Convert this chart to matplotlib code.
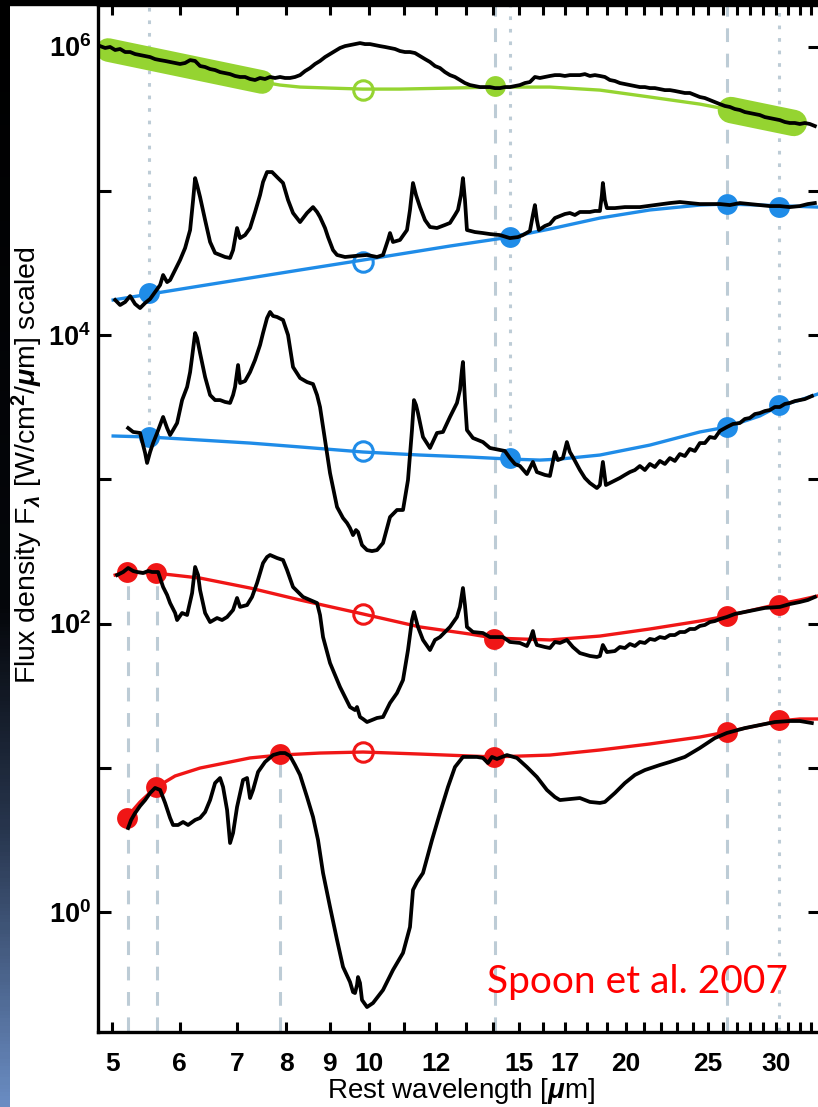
import numpy as np
import matplotlib
matplotlib.use('Agg')
import matplotlib.pyplot as plt
from matplotlib.ticker import FixedLocator, FixedFormatter, NullLocator, NullFormatter
from matplotlib.patches import Rectangle
from matplotlib.colors import LinearSegmentedColormap

plt.rcParams['font.family'] = ['Liberation Sans', 'DejaVu Sans']
plt.rcParams['font.weight'] = 'bold'
plt.rcParams['mathtext.fontset'] = 'custom'
plt.rcParams['mathtext.rm'] = 'Liberation Sans:bold'
plt.rcParams['mathtext.it'] = 'Liberation Sans:italic'
plt.rcParams['mathtext.bf'] = 'Liberation Sans:bold'

# --- spectra: rest wavelength [um] and log10 of scaled flux density ---
wave1 = [4.841, 4.907, 4.973, 5.041, 5.109, 5.179, 5.249, 5.320, 5.392, 5.466, 5.540, 5.615, 5.692, 5.769,
         5.847, 5.927, 6.007, 6.089, 6.172, 6.256, 6.340, 6.427, 6.514, 6.602, 6.692, 6.783, 6.875, 6.968,
         7.063, 7.159, 7.256, 7.355, 7.455, 7.556, 7.659, 7.763, 7.868, 7.975, 8.083, 8.193, 8.305, 8.418,
         8.532, 8.648, 8.765, 8.884, 9.005, 9.127, 9.251, 9.377, 9.504, 9.633, 9.764, 9.897, 10.031, 10.168,
         10.306, 10.446, 10.588, 10.732, 10.877, 11.025, 11.175, 11.327, 11.481, 11.637, 11.795, 11.955,
         12.117, 12.282, 12.449, 12.618, 12.789, 12.963, 13.139, 13.317, 13.498, 13.681, 13.867, 14.056,
         14.247, 14.440, 14.636, 14.835, 15.037, 15.241, 15.448, 15.658, 15.870, 16.086, 16.305, 16.526,
         16.751, 16.978, 17.209, 17.443, 17.680, 17.920, 18.164, 18.411, 18.661, 18.914, 19.171, 19.432,
         19.696, 19.963, 20.235, 20.510, 20.788, 21.071, 21.357, 21.647, 21.941, 22.239, 22.542, 22.848,
         23.159, 23.473, 23.792, 24.116, 24.443, 24.775, 25.112, 25.453, 25.799, 26.150, 26.505, 26.865,
         27.229, 27.599, 27.974, 28.354, 28.740, 29.131, 29.527, 29.928, 30.335, 30.747, 31.165, 31.588,
         32.017, 32.452, 32.893, 33.341]
logf1 = [6.003, 5.990, 5.997, 5.976, 5.983, 5.962, 5.962, 5.948, 5.941, 5.934, 5.927, 5.913, 5.906, 5.900,
         5.893, 5.886, 5.879, 5.886, 5.906, 5.900, 5.865, 5.858, 5.844, 5.837, 5.823, 5.816, 5.809, 5.796,
         5.789, 5.789, 5.775, 5.768, 5.782, 5.775, 5.789, 5.782, 5.789, 5.782, 5.782, 5.789, 5.802, 5.830,
         5.851, 5.879, 5.900, 5.927, 5.948, 5.969, 5.990, 6.003, 6.010, 6.017, 6.024, 6.017, 6.017, 6.010,
         6.003, 5.997, 5.990, 5.983, 5.969, 5.962, 5.962, 5.955, 5.934, 5.913, 5.893, 5.865,
         5.851, 5.823, 5.802, 5.789, 5.768, 5.747, 5.733, 5.726, 5.719, 5.719, 5.719, 5.712,
         5.712, 5.719, 5.719, 5.726, 5.733, 5.747, 5.754, 5.789, 5.782, 5.789, 5.796, 5.802,
         5.802, 5.796, 5.802, 5.802, 5.802, 5.809, 5.796, 5.802, 5.796, 5.789, 5.768, 5.761,
         5.747, 5.740, 5.733, 5.726, 5.719, 5.719, 5.712, 5.712, 5.705, 5.698, 5.698, 5.692,
         5.685, 5.678, 5.678, 5.664, 5.650, 5.643, 5.629, 5.615, 5.601, 5.588, 5.581, 5.567,
         5.560, 5.546, 5.539, 5.532, 5.525, 5.511, 5.504, 5.497, 5.490, 5.477, 5.470, 5.470,
         5.463, 5.470, 5.463, 5.449]

wave2 = [5.041, 5.109, 5.179, 5.249, 5.320, 5.392, 5.466, 5.540, 5.615, 5.692, 5.738, 5.800, 5.847, 5.927,
         6.007, 6.089, 6.172, 6.222, 6.256, 6.289, 6.340, 6.427, 6.514, 6.602, 6.692, 6.783, 6.875, 6.931,
         7.006, 7.063, 7.159, 7.256, 7.355, 7.455, 7.515, 7.597, 7.700, 7.826, 7.932, 8.040, 8.149, 8.305,
         8.463, 8.601, 8.695, 8.765, 8.884, 8.957, 9.078, 9.177, 9.377, 9.633, 9.951, 10.223, 10.390,
         10.531, 10.588, 10.674, 10.877, 11.085, 11.175, 11.266, 11.358, 11.481, 11.637, 11.795, 12.020,
         12.282, 12.449, 12.618, 12.720, 12.824, 12.893, 12.963, 13.033, 13.317, 13.608, 13.867, 14.247,
         14.636, 14.955, 15.159, 15.448, 15.573, 15.658, 15.742, 15.827, 16.086, 16.305, 16.526, 16.751,
         16.978, 17.209, 17.443, 17.680, 18.164, 18.411, 18.661, 18.762, 18.812, 18.914, 19.017, 19.432,
         19.963, 20.788, 21.647, 22.542, 23.159, 23.792, 24.443, 25.112, 25.799, 26.505, 27.229, 27.974,
         28.740, 29.527, 30.335, 31.165, 32.017, 32.716, 33.341]
logf2 = [4.243, 4.208, 4.229, 4.270, 4.215, 4.187, 4.222, 4.250, 4.298, 4.347, 4.416, 4.367, 4.381, 4.451,
         4.520, 4.603, 4.728, 4.936, 5.088, 5.040, 4.957, 4.797, 4.645, 4.569, 4.555, 4.541, 4.534, 4.589,
         4.742, 4.672, 4.693, 4.742, 4.853, 4.971, 5.061, 5.130, 5.130, 5.088, 5.054, 4.936, 4.846, 4.783,
         4.846, 4.887, 4.853, 4.818, 4.742, 4.679, 4.589, 4.555, 4.541, 4.548, 4.555, 4.541, 4.555,
         4.659, 4.707, 4.645, 4.659, 4.728, 4.867, 5.054, 4.971, 4.887, 4.797, 4.749, 4.742,
         4.763, 4.777, 4.832, 4.867, 4.971, 5.088, 4.936, 4.728, 4.714, 4.707, 4.700, 4.693,
         4.672, 4.679, 4.693, 4.721, 4.832, 4.901, 4.797, 4.728, 4.756, 4.770, 4.811, 4.825,
         4.839, 4.846, 4.832, 4.853, 4.853, 4.860, 4.860, 4.971, 5.054, 4.936, 4.880, 4.880,
         4.887, 4.887, 4.901, 4.915, 4.922, 4.915, 4.908, 4.908, 4.908, 4.901, 4.915, 4.908,
         4.901, 4.894, 4.894, 4.887, 4.894, 4.908, 4.915]

wave3 = [5.221, 5.292, 5.392, 5.466, 5.495, 5.540, 5.585, 5.646, 5.692, 5.738, 5.800, 5.847, 5.894, 5.959,
         6.040, 6.122, 6.172, 6.205, 6.256, 6.289, 6.340, 6.427, 6.514, 6.602, 6.692, 6.783, 6.875, 6.931,
         6.968, 7.025, 7.063, 7.159, 7.256, 7.355, 7.455, 7.515, 7.597, 7.659, 7.721, 7.805, 7.932, 8.040,
         8.149, 8.305, 8.463, 8.601, 8.695, 8.765, 8.884, 9.005, 9.177, 9.327, 9.428, 9.504, 9.582, 9.659,
         9.712, 9.817, 9.951, 10.085, 10.223, 10.390, 10.588, 10.790, 10.966, 11.115, 11.175, 11.235,
         11.296, 11.358, 11.419, 11.574, 11.795, 12.020, 12.216, 12.449, 12.686, 12.789, 12.858, 12.893,
         12.963, 13.033, 13.246, 13.608, 13.867, 14.247, 14.440, 14.636, 14.835, 15.037, 15.323, 15.573,
         15.742, 16.086, 16.305, 16.526, 16.660, 16.887, 17.070, 17.209, 17.349, 17.680, 17.920, 18.164,
         18.510, 18.661, 18.812, 18.965, 19.171, 19.696, 19.963, 20.235, 20.510, 20.788, 21.071, 21.357,
         21.647, 21.941, 22.239, 22.542, 22.848, 23.159, 23.473, 23.792, 24.116, 24.443, 24.775, 25.112,
         25.453, 25.799, 26.290, 26.720, 27.229, 27.599, 27.974, 28.354, 28.740, 29.131, 29.527, 29.928,
         30.335, 30.747, 31.165, 31.588, 32.017, 32.452, 33.072]
logf3 = [3.355, 3.328, 3.321, 3.182, 3.113, 3.189, 3.251, 3.321, 3.376, 3.432, 3.355, 3.307, 3.341, 3.390,
         3.549, 3.640, 3.743, 3.847, 4.014, 3.979, 3.875, 3.709, 3.584, 3.549, 3.549, 3.536, 3.529, 3.584,
         3.640, 3.792, 3.667, 3.681, 3.743, 3.827, 3.931, 4.014, 4.118, 4.160, 4.132, 4.125, 4.104, 4.000,
         3.778, 3.702, 3.674, 3.660, 3.584, 3.501, 3.272, 3.043, 2.808, 2.731, 2.697, 2.662, 2.613, 2.648,
         2.634, 2.544, 2.509, 2.502, 2.509, 2.558, 2.738, 2.787, 2.787, 2.995, 3.168, 3.341,
         3.549, 3.515, 3.459, 3.293, 3.217, 3.321, 3.328, 3.432, 3.529, 3.619, 3.757, 3.813,
         3.549, 3.341, 3.286, 3.258, 3.217, 3.203, 3.196, 3.147, 3.106, 3.092, 3.036, 3.120,
         3.050, 3.030, 3.023, 3.189, 3.133, 3.147, 3.258, 3.189, 3.154, 3.064, 3.009, 2.974,
         2.939, 2.960, 3.120, 2.960, 2.974, 3.009, 3.030, 3.050, 3.064, 3.092, 3.064, 3.106,
         3.085, 3.127, 3.106, 3.147, 3.127, 3.175, 3.161, 3.210, 3.196, 3.251, 3.251, 3.293,
         3.286, 3.335, 3.362, 3.383, 3.390, 3.418, 3.425, 3.452, 3.459, 3.473, 3.480, 3.501,
         3.501, 3.522, 3.529, 3.542, 3.549, 3.556, 3.577]

wave4 = [5.068, 5.151, 5.221, 5.292, 5.349, 5.436, 5.510, 5.570, 5.661, 5.738, 5.800, 5.847, 5.927, 5.959,
         6.040, 6.122, 6.205, 6.256, 6.306, 6.340, 6.427, 6.514, 6.638, 6.728, 6.820, 6.931, 7.006, 7.063,
         7.198, 7.295, 7.395, 7.515, 7.597, 7.659, 7.805, 7.932, 8.018, 8.149, 8.372, 8.532, 8.695, 8.765,
         8.837, 9.005, 9.251, 9.504, 9.633, 9.686, 9.764, 9.844, 9.951, 10.223, 10.390, 10.588, 10.790,
         10.966, 11.115, 11.235, 11.296, 11.419, 11.574, 11.795, 11.955, 12.117, 12.449, 12.686, 12.789,
         12.893, 12.963, 13.033, 13.246, 13.608, 13.867, 14.132, 14.362, 14.636, 15.037, 15.323, 15.448,
         15.573, 15.658, 15.742, 16.086, 16.305, 16.526, 16.751, 17.070, 17.349, 17.680, 18.164, 18.510,
         18.661, 18.812, 19.017, 19.432, 19.696, 19.963, 20.235, 20.510, 20.788, 21.071, 21.357, 21.647,
         21.941, 22.239, 22.542, 22.848, 23.159, 23.473, 23.792, 24.116, 24.443, 24.775, 25.112, 25.453,
         25.799, 26.290, 26.865, 27.599, 28.354, 29.131, 30.335, 31.165, 32.017, 32.716, 33.341]
logf4 = [2.336, 2.357, 2.385, 2.364, 2.357, 2.350, 2.364, 2.357, 2.357, 2.253, 2.198, 2.142, 2.073, 2.024,
         2.073, 2.059, 2.211, 2.392, 2.336, 2.232, 2.073, 2.010, 2.038, 2.024, 2.045, 2.094, 2.177, 2.115,
         2.128, 2.184, 2.281, 2.419, 2.461, 2.475, 2.454, 2.440, 2.371, 2.253, 2.184, 2.163, 2.142, 2.059,
         1.906, 1.726, 1.560, 1.421, 1.400, 1.421, 1.352, 1.338, 1.317, 1.345, 1.352, 1.449, 1.518,
         1.608, 1.816, 2.024, 2.080, 1.976, 1.886, 1.816, 1.886, 1.906, 1.976, 2.045, 2.115,
         2.246, 2.128, 1.976, 1.941, 1.934, 1.906, 1.906, 1.906, 1.872, 1.865, 1.844, 1.886,
         1.948, 1.886, 1.851, 1.837, 1.830, 1.872, 1.865, 1.886, 1.837, 1.795, 1.775, 1.768,
         1.775, 1.851, 1.802, 1.809, 1.837, 1.830, 1.858, 1.844, 1.872, 1.865, 1.893, 1.886,
         1.906, 1.899, 1.920, 1.920, 1.941, 1.941, 1.962, 1.962, 1.983, 1.990, 2.010, 2.017,
         2.031, 2.045, 2.066, 2.080, 2.094, 2.108, 2.115, 2.135, 2.149, 2.163, 2.184]

wave5 = [5.221, 5.263, 5.320, 5.392, 5.466, 5.540, 5.615, 5.692, 5.769, 5.847, 5.894, 5.975, 6.056, 6.138,
         6.256, 6.340, 6.427, 6.514, 6.602, 6.692, 6.746, 6.820, 6.875, 6.931, 7.006, 7.120, 7.198, 7.256,
         7.315, 7.415, 7.556, 7.721, 7.868, 7.975, 8.083, 8.193, 8.305, 8.463, 8.601, 8.718, 8.837, 9.005,
         9.177, 9.327, 9.504, 9.582, 9.633, 9.686, 9.712, 9.764, 9.817, 9.951, 10.113, 10.390, 10.674,
         10.966, 11.175, 11.266, 11.388, 11.574, 11.859, 12.117, 12.382, 12.618, 12.893, 13.389, 13.608,
         13.793, 13.942, 14.132, 14.518, 14.915, 15.323, 15.742, 16.173, 16.526, 16.751, 17.209, 17.680,
         18.164, 18.661, 18.914, 19.432, 19.963, 20.510, 21.071, 21.941, 22.542, 23.473, 24.443, 25.453,
         26.290, 27.599, 28.740, 29.928, 31.165, 32.017, 33.072]
logf5 = [0.582, 0.638, 0.686, 0.735, 0.776, 0.825, 0.860, 0.846, 0.756, 0.652, 0.603, 0.603, 0.624, 0.603,
         0.638, 0.652, 0.693, 0.776, 0.894, 0.929, 0.867, 0.707, 0.478, 0.548, 0.728, 0.915, 0.929, 0.790,
         0.846, 0.971, 1.040, 1.088, 1.102, 1.102, 1.082, 1.019, 0.950, 0.797, 0.659, 0.499, 0.270, 0.035,
         -0.194, -0.381, -0.485, -0.555, -0.562, -0.506, -0.451, -0.492, -0.610, -0.659, -0.631, -0.541, -0.402,
         -0.284, -0.104, 0.153, 0.208, 0.270, 0.499, 0.686, 0.867, 1.005, 1.075, 1.075, 1.068,
         1.033, 1.075, 1.061, 1.088, 1.068, 1.005, 0.936, 0.846, 0.797, 0.776, 0.783, 0.790,
         0.763, 0.756, 0.763, 0.825, 0.894, 0.950, 0.984, 1.019, 1.040, 1.075, 1.137, 1.206,
         1.241, 1.275, 1.296, 1.317, 1.324, 1.324, 1.310]

# --- continuum fits ---
band1_left_w, band1_left_f = [4.946, 7.495], [5.976, 5.754]
band1_right_w, band1_right_f = [26.577, 31.504], [5.560, 5.470]
cont1_w = [7.495, 7.868, 8.305, 9.005, 9.844, 10.877, 12.449, 14.056, 16.305, 18.661, 21.357, 24.443, 26.577]
cont1_f = [5.754, 5.733, 5.719, 5.712, 5.705, 5.705, 5.712, 5.719, 5.719, 5.698, 5.650, 5.601, 5.560]

cont2_w = [5.014, 6.340, 8.305, 9.844, 12.449, 14.636, 16.305, 18.661, 21.357, 24.443, 26.290, 28.740, 31.165, 33.612]
cont2_f = [4.243, 4.340, 4.451, 4.520, 4.617, 4.679, 4.735, 4.811, 4.867, 4.901, 4.908, 4.901, 4.894, 4.887]

cont3_w = [5.014, 5.525, 6.340, 7.256, 8.305, 9.844, 11.481, 13.139, 14.636, 15.870, 16.751, 18.661, 21.357,
           24.443, 26.290, 28.740, 30.253, 32.017, 33.612]
cont3_f = [3.300, 3.293, 3.272, 3.251, 3.224, 3.189, 3.168, 3.154, 3.140, 3.133, 3.140, 3.168, 3.237,
           3.328, 3.362, 3.439, 3.508, 3.549, 3.591]

cont4_w = [5.041, 5.193, 5.615, 6.340, 7.256, 8.305, 9.844, 11.481, 13.139, 14.018, 16.305, 18.661, 21.357,
           24.443, 26.290, 30.253, 32.017, 33.612]
cont4_f = [2.336, 2.357, 2.350, 2.315, 2.246, 2.163, 2.066, 1.976, 1.927, 1.899, 1.886, 1.913, 1.962,
           2.017, 2.052, 2.135, 2.163, 2.191]

cont5_w = [5.193, 5.392, 5.615, 5.927, 6.340, 6.875, 7.256, 7.868, 8.765, 9.844, 11.481, 14.018, 16.305,
           18.661, 21.357, 24.443, 26.290, 28.740, 30.253, 32.017, 33.612]
cont5_f = [0.652, 0.763, 0.860, 0.943, 0.998, 1.040, 1.068, 1.088, 1.102, 1.109, 1.095, 1.075, 1.088,
           1.123, 1.165, 1.213, 1.248, 1.296, 1.324, 1.338, 1.338]

# --- pivot points (filled) and interpolated points (open) ---
pts1_w, pts1_f = [14.056], [5.726]
open1_w, open1_f = [9.844], [5.698]
pts2_w, pts2_f = [5.525, 14.636, 26.290, 30.253], [4.291, 4.679, 4.908, 4.887]
open2_w, open2_f = [9.844], [4.506]
pts3_w, pts3_f = [5.525, 14.636, 26.290, 30.253], [3.293, 3.147, 3.362, 3.515]
open3_w, open3_f = [9.844], [3.196]
pts4_w, pts4_f = [5.21, 5.63, 14.018, 26.290, 30.253], [2.357, 2.350, 1.893, 2.052, 2.128]
open4_w, open4_f = [9.844], [2.066]
pts5_w, pts5_f = [5.21, 5.63, 7.868, 14.018, 26.290, 30.253], [0.652, 0.867, 1.095, 1.075, 1.248, 1.331]
open5_w, open5_f = [9.844], [1.109]

# vertical guide lines: wavelength, lower and upper log10 flux, style
guide_w = [5.525, 5.221, 5.646, 7.868, 14.056, 14.636, 26.290, 30.253]
guide_lo = [3.29, -1.0, -1.0, -1.0, -1.0, 3.15, -1.0, -1.0]
guide_hi = [6.5, 2.36, 2.36, 1.10, 6.5, 6.5, 6.5, 6.5]
guide_style = ['dot', 'dash', 'dash', 'dash', 'dash', 'dot', 'dash', 'dot']

xticks_major = [5, 6, 7, 8, 9, 10, 12, 15, 17, 20, 25, 30]
xticks_minor = [11, 13, 14, 16, 18, 19, 21, 22, 23, 24, 26, 27, 28, 29, 31, 32, 33]
yticks = [0, 1, 2, 3, 4, 5, 6]
ylabels = [r'$\mathregular{10^{0}}$', '', r'$\mathregular{10^{2}}$', '',
           r'$\mathregular{10^{4}}$', '', r'$\mathregular{10^{6}}$']

GREEN = '#95d431'
BLUE = '#1f8ce8'
RED = '#f01616'
GUIDE = '#bdccd6'

W, H = 818, 1107
fig = plt.figure(figsize=(W / 100, H / 100), dpi=100)
fig.patch.set_facecolor('white')

# dark slide edge on the left and top
edge = fig.add_axes([0, 0, 10 / W, 1])
edge_cmap = LinearSegmentedColormap.from_list(
    'edge', [(0.0, '#000000'), (0.55, '#05070b'), (0.75, '#27354d'), (1.0, '#6a8cc2')])
edge.imshow(np.linspace(0, 1, 300)[:, None], aspect='auto', cmap=edge_cmap)
edge.set_axis_off()
fig.add_artist(Rectangle((0, 1 - 5 / H), 1, 5 / H, transform=fig.transFigure,
                         color='black', zorder=10))

ax = fig.add_axes([98 / W, 1 - 1032 / H, (821 - 98) / W, (1032 - 5) / H])
ax.set_xscale('log')
ax.set_yscale('log')

def f(v):
    return 10 ** np.asarray(v, dtype=float)

for x, lo, hi, st in zip(guide_w, guide_lo, guide_hi, guide_style):
    ls = (0, (4.5, 3.8)) if st == 'dash' else (0, (1.2, 2.9))
    ax.plot([x, x], f([lo, hi]), color=GUIDE, lw=2.2, ls=ls, zorder=1)

# continua
ax.plot(band1_left_w, f(band1_left_f), color=GREEN, lw=17, solid_capstyle='round', zorder=2)
ax.plot(band1_right_w, f(band1_right_f), color=GREEN, lw=19, solid_capstyle='round', zorder=2)
ax.plot(cont1_w, f(cont1_f), color=GREEN, lw=2.4, zorder=2)
ax.plot(cont2_w, f(cont2_f), color=BLUE, lw=2.4, zorder=2)
ax.plot(cont3_w, f(cont3_f), color=BLUE, lw=2.4, zorder=2)
ax.plot(cont4_w, f(cont4_f), color=RED, lw=2.4, zorder=2)
ax.plot(cont5_w, f(cont5_f), color=RED, lw=2.4, zorder=2)

for pw, pf, ow, of, c in [(pts1_w, pts1_f, open1_w, open1_f, GREEN),
                          (pts2_w, pts2_f, open2_w, open2_f, BLUE),
                          (pts3_w, pts3_f, open3_w, open3_f, BLUE),
                          (pts4_w, pts4_f, open4_w, open4_f, RED),
                          (pts5_w, pts5_f, open5_w, open5_f, RED)]:
    ax.plot(pw, f(pf), 'o', color=c, ms=15, mec='none', zorder=3)
    ax.plot(ow, f(of), 'o', mfc='none', mec=c, mew=2.2, ms=14, zorder=3)

# observed spectra
for w, lf in [(wave1, logf1), (wave2, logf2), (wave3, logf3), (wave4, logf4), (wave5, logf5)]:
    ax.plot(w, f(lf), color='black', lw=2.7, solid_joinstyle='round', zorder=4)

ax.set_xlim(4.813, 33.90)
ax.set_ylim(10 ** -0.832, 10 ** 6.288)

ax.xaxis.set_major_locator(FixedLocator(xticks_major))
ax.xaxis.set_major_formatter(FixedFormatter([str(t) for t in xticks_major]))
ax.xaxis.set_minor_locator(FixedLocator(xticks_minor))
ax.xaxis.set_minor_formatter(NullFormatter())
ax.yaxis.set_major_locator(FixedLocator(f(yticks)))
ax.yaxis.set_major_formatter(FixedFormatter(ylabels))
ax.yaxis.set_minor_locator(NullLocator())

ax.tick_params(axis='both', which='both', direction='in', top=True, right=True, width=2.2, color='black')
ax.tick_params(axis='x', which='both', length=7.5, pad=14.5, labelsize=19)
ax.tick_params(axis='y', which='major', length=9.5, pad=5, labelsize=19.5)
for s in ax.spines.values():
    s.set_linewidth(2.4)

ax.set_xlabel(r'Rest wavelength [$\mu$m]', fontsize=20, fontweight='normal')
ax.set_ylabel(r'Flux density F$_\lambda$ [W/cm$^2$/$\mu$m] scaled', fontsize=20.5, fontweight='normal')
ax.xaxis.set_label_coords(0.502, -0.0575)
ax.yaxis.set_label_coords(-0.097, 0.552)
ax.xaxis.label.set_va('center')
ax.yaxis.label.set_va('center')

fig.text(487 / W, 1 - 993 / H, 'Spoon et al. 2007', color='#ff0000', fontsize=28,
         family=['Lato', 'DejaVu Sans'], fontweight='normal', ha='left', va='baseline')

fig.savefig('out.png', dpi=100)
